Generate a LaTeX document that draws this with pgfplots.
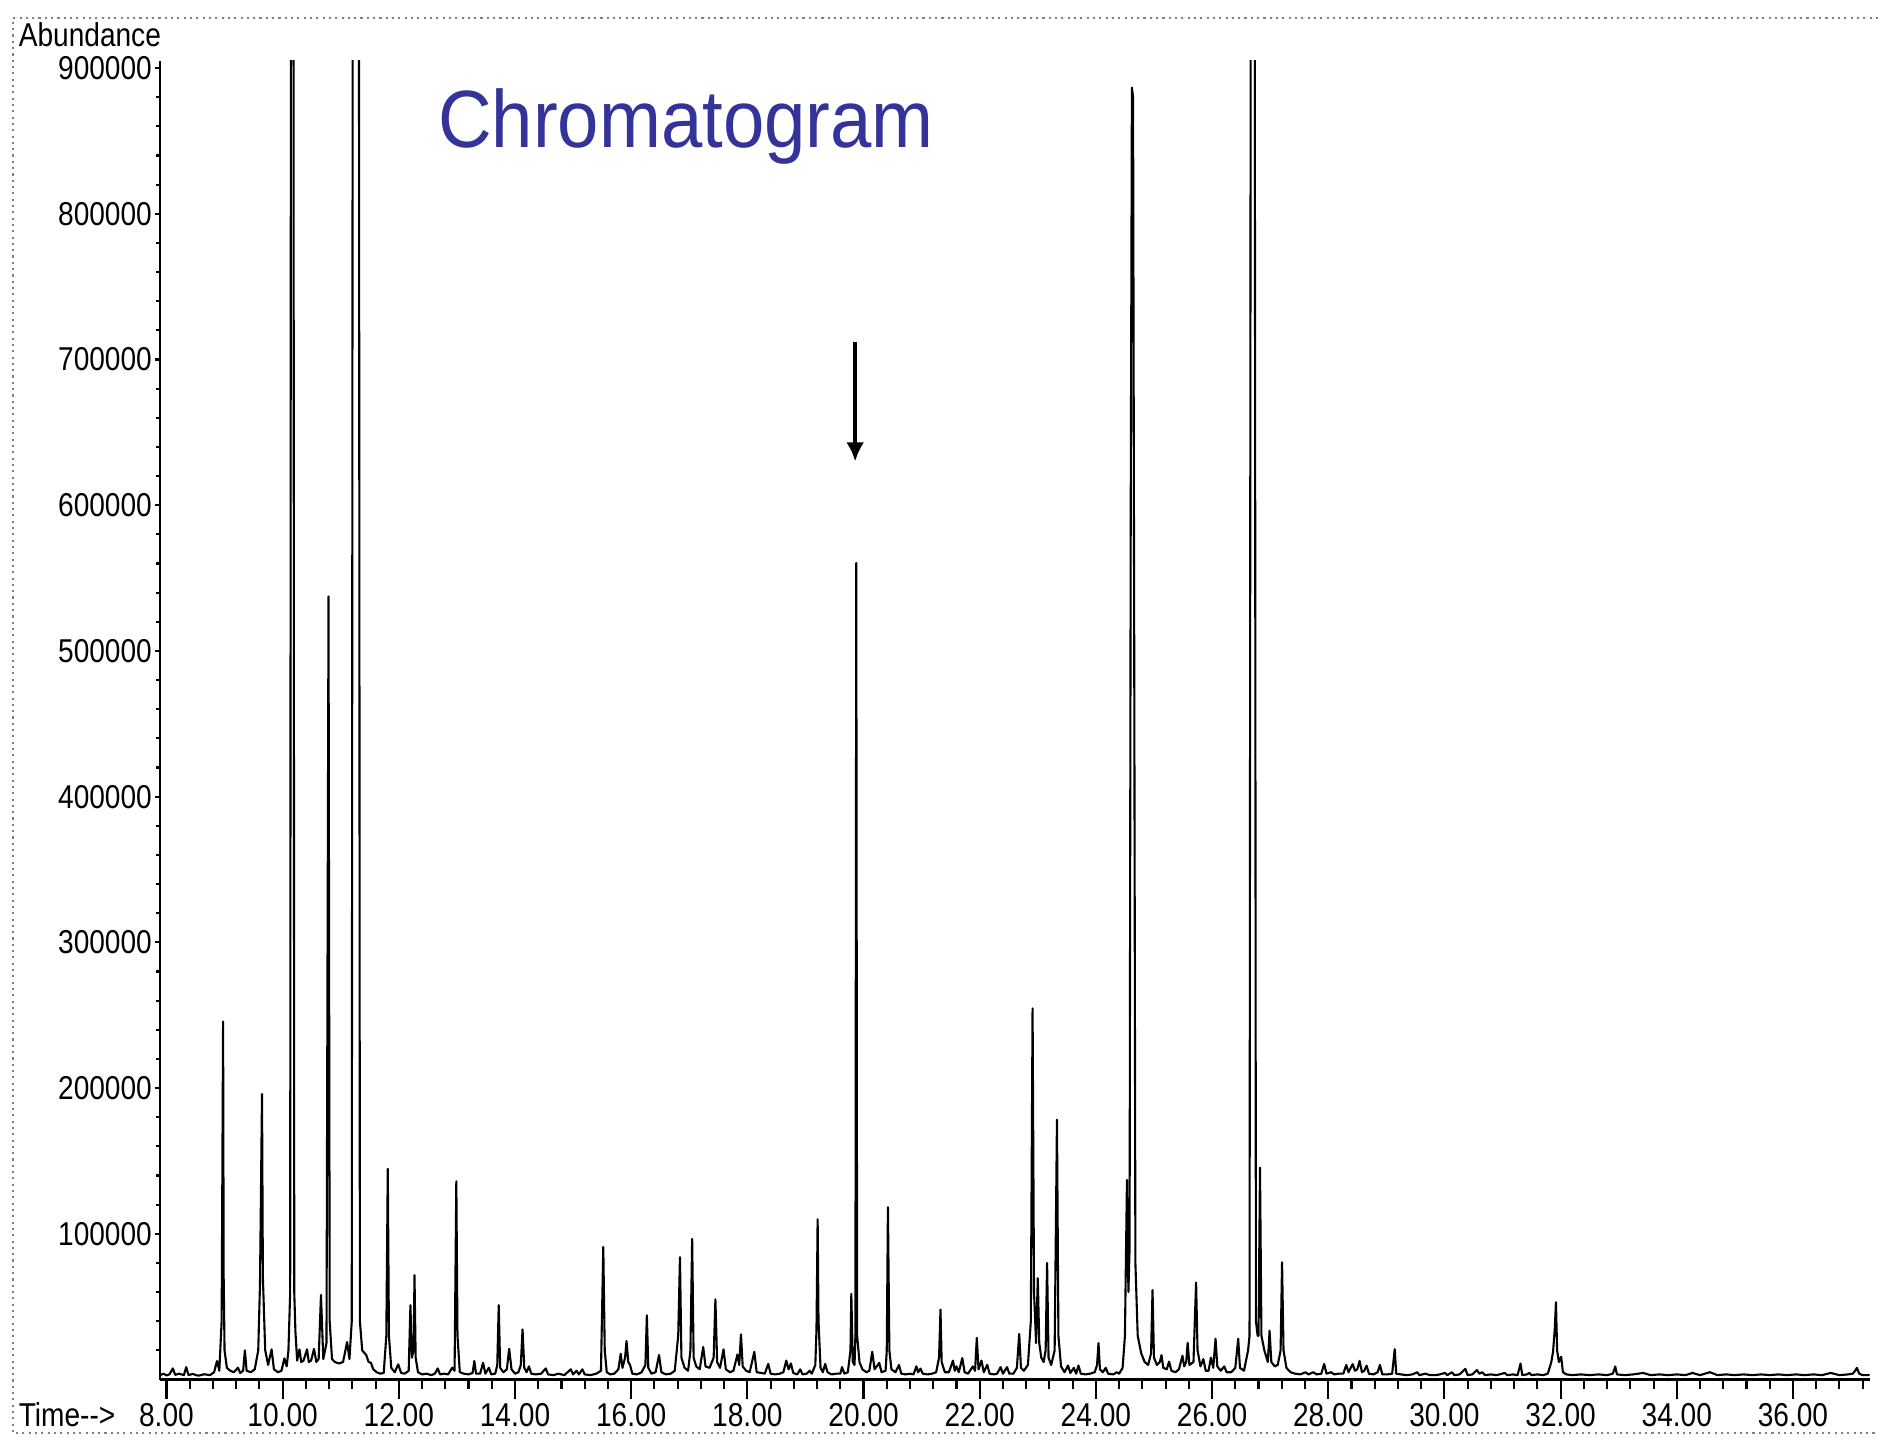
\documentclass[border=0pt]{standalone}
\usepackage{fontspec}
\setmainfont{Liberation Sans}[FakeStretch=0.85]
\newfontfamily\titlefont{Liberation Sans}[FakeStretch=0.915]
\usepackage{pgfplots}
\usepackage{pgfplotstable}
\pgfplotsset{compat=1.18}
\usetikzlibrary{arrows.meta}
\definecolor{titleblue}{RGB}{51,51,153}
\newcommand{\tickfont}{\fontsize{7.85}{9}\selectfont}
\pgfplotstableread{
t a
7.89 3000
7.95 4000
8.00 2800
8.05 3500
8.11 7600
8.15 3200
8.22 4000
8.30 3000
8.34 8500
8.38 3000
8.45 3800
8.55 2600
8.65 3600
8.75 3000
8.82 5000
8.87 12700
8.91 6000
8.95 40000
8.975 245700
8.985 70000
9.00 20000
9.04 8000
9.10 6000
9.16 5000
9.23 8100
9.27 4500
9.32 6000
9.35 20000
9.38 6000
9.45 5000
9.52 7000
9.58 20000
9.61 65000
9.645 196000
9.66 70000
9.70 20000
9.75 10000
9.81 20700
9.85 7000
9.92 5000
9.98 6000
10.03 14500
10.07 9000
10.10 20000
10.13 60000
10.165 2500000
10.20 60000
10.22 33000
10.25 13000
10.29 20700
10.32 12000
10.36 13000
10.42 20700
10.45 12000
10.49 13000
10.54 21000
10.58 12000
10.62 14000
10.66 58000
10.70 14000
10.755 25000
10.79 537400
10.81 40000
10.85 14000
10.90 12000
10.97 11000
11.04 12000
11.11 25700
11.15 14000
11.19 40000
11.26 4000000
11.33 40000
11.37 20000
11.44 16800
11.48 12000
11.52 11500
11.56 7000
11.62 5000
11.68 4000
11.74 4500
11.785 30000
11.81 144600
11.83 30000
11.87 8000
11.93 5000
11.99 10400
12.04 4500
12.10 4000
12.17 6000
12.20 51000
12.225 15000
12.255 20000
12.27 71600
12.29 15000
12.33 5000
12.40 3500
12.48 4000
12.56 3000
12.62 4000
12.67 7600
12.71 3500
12.78 4000
12.85 3500
12.92 8100
12.96 6000
12.99 136000
13.01 30000
13.05 5000
13.12 4000
13.20 3500
13.27 4500
13.30 12700
13.33 4000
13.40 4000
13.45 11500
13.49 4000
13.55 8100
13.59 3500
13.66 4000
13.695 10000
13.72 51000
13.745 8000
13.80 5000
13.86 7000
13.90 21000
13.94 7000
14.00 4000
14.06 5000
14.10 10000
14.13 34400
14.16 8000
14.20 5000
14.24 9000
14.28 4000
14.36 3500
14.45 4000
14.53 7600
14.57 3500
14.66 3000
14.75 4000
14.85 3000
14.96 7000
15.00 3500
15.06 6000
15.10 3500
15.16 7000
15.20 3500
15.30 3000
15.40 4000
15.48 6000
15.52 91000
15.545 20000
15.58 5000
15.64 3500
15.71 4000
15.78 7000
15.82 17700
15.85 8000
15.895 15000
15.92 26400
15.95 12000
15.98 10000
16.02 4000
16.10 3500
16.18 5000
16.245 10000
16.27 44000
16.295 8000
16.35 4000
16.42 5000
16.48 16800
16.52 5000
16.60 3500
16.68 4000
16.75 6000
16.81 30000
16.84 84000
16.865 15000
16.92 8000
16.98 6000
17.02 20000
17.05 96500
17.075 15000
17.12 9000
17.18 7000
17.24 22300
17.28 9000
17.35 8000
17.42 15000
17.45 55000
17.48 12000
17.53 8000
17.59 20700
17.63 7000
17.70 5000
17.76 6000
17.83 17200
17.86 10000
17.89 31000
17.92 9000
17.98 6000
18.04 5000
18.12 19000
18.16 5000
18.24 4500
18.30 4000
18.36 10700
18.40 4000
18.48 3500
18.56 4000
18.62 5000
18.67 13000
18.71 7000
18.75 11000
18.79 4500
18.86 3500
18.91 7000
18.95 3500
19.02 4000
19.07 6000
19.11 4000
19.17 10000
19.19 34000
19.21 110000
19.225 40000
19.26 8000
19.30 5000
19.34 10700
19.38 5000
19.45 3500
19.53 4000
19.60 4000
19.63 8500
19.67 4000
19.73 5000
19.775 20000
19.79 58800
19.815 12000
19.845 10000
19.86 30000
19.875 560400
19.89 30000
19.93 12000
19.98 7000
20.05 5000
20.10 6000
20.15 19000
20.19 7000
20.27 11400
20.31 5000
20.38 6000
20.40 20000
20.42 118300
20.445 20000
20.48 7000
20.55 5000
20.61 10000
20.65 4000
20.72 3500
20.80 4000
20.86 3500
20.91 9000
20.94 5000
20.98 7500
21.02 4000
21.10 3500
21.18 4000
21.25 5000
21.30 15000
21.325 48000
21.345 12000
21.40 5000
21.47 5000
21.54 13000
21.57 6000
21.60 9000
21.64 5000
21.70 14700
21.74 5000
21.80 4000
21.88 9000
21.92 6000
21.95 28600
21.98 7000
22.03 13000
22.07 5000
22.13 10000
22.17 4000
22.25 3500
22.30 4000
22.36 8500
22.40 4000
22.47 8500
22.51 4000
22.58 4000
22.64 8000
22.68 31300
22.71 8000
22.76 6000
22.83 10000
22.88 40000
22.91 254700
22.935 60000
22.97 25000
23.00 69500
23.025 25000
23.06 15000
23.10 12000
23.135 20000
23.16 80000
23.185 15000
23.23 10000
23.29 20000
23.33 178300
23.355 30000
23.40 9000
23.46 5000
23.52 9600
23.56 4500
23.62 8000
23.66 4000
23.70 9600
23.74 4000
23.82 3500
23.90 4000
23.98 5000
24.02 10000
24.045 25000
24.07 7000
24.12 5000
24.17 8000
24.21 4000
24.30 3500
24.36 5000
24.40 4000
24.46 8000
24.50 30000
24.535 137000
24.56 60000
24.58 90000
24.60 600000
24.62 886600
24.64 880000
24.66 500000
24.68 80000
24.72 30000
24.78 18000
24.84 12000
24.90 10000
24.95 18000
24.975 61400
25.00 15000
25.05 10000
25.10 12000
25.13 16700
25.16 8000
25.22 7000
25.26 12300
25.30 6000
25.37 5000
25.43 7000
25.49 16300
25.52 9000
25.555 12000
25.58 25200
25.61 10000
25.68 12000
25.725 66600
25.75 20000
25.80 9000
25.85 14000
25.89 6000
25.94 6000
25.98 15000
26.02 8000
26.06 28000
26.09 9000
26.15 6000
26.21 9000
26.25 5000
26.33 5000
26.40 8000
26.45 28000
26.48 8000
26.55 6000
26.62 20000
26.645 30000
26.70 2500000
26.755 40000
26.785 30000
26.80 30000
26.825 145400
26.85 30000
26.90 20000
26.96 12000
26.99 33500
27.02 12000
27.08 9000
27.13 10000
27.18 20000
27.205 80400
27.23 20000
27.28 8000
27.35 5000
27.43 4000
27.52 3500
27.61 5000
27.66 3500
27.74 5000
27.80 3500
27.88 4000
27.93 10700
27.97 4000
28.05 5000
28.10 3500
28.18 4000
28.26 4000
28.31 10000
28.35 5000
28.42 10600
28.46 6000
28.50 7000
28.54 12800
28.58 5000
28.62 6000
28.66 9500
28.70 4000
28.78 3500
28.85 5000
28.89 10000
28.93 3500
29.02 3500
29.10 4000
29.145 20800
29.17 4000
29.25 3500
29.35 3000
29.45 3500
29.53 5000
29.57 3000
29.67 4000
29.75 3000
29.85 3000
29.92 3500
30.01 4500
30.05 3000
30.13 5000
30.17 3000
30.26 3500
30.36 7300
30.40 3000
30.48 3500
30.56 6500
30.60 4000
30.65 5000
30.70 3000
30.80 3500
30.90 3000
31.04 4500
31.08 3000
31.18 3500
31.26 3000
31.31 11000
31.34 3000
31.42 3500
31.46 4500
31.50 3000
31.60 3500
31.70 3000
31.78 4000
31.84 12000
31.87 19000
31.90 35000
31.92 53000
31.94 20000
31.97 12000
32.01 15600
32.04 5000
32.10 3500
32.20 3000
32.35 3500
32.50 3000
32.65 3500
32.80 3000
32.90 4000
32.94 9000
32.97 3500
33.10 3000
33.25 3500
33.42 4500
33.55 3000
33.70 3500
33.85 3000
34.00 3500
34.15 3000
34.27 4500
34.40 3000
34.57 5000
34.70 3000
34.85 3500
35.00 3000
35.15 3500
35.30 3000
35.45 3500
35.60 3000
35.75 3500
35.90 3000
36.05 3500
36.20 3000
36.35 3500
36.50 3000
36.65 4500
36.80 3000
36.95 3500
37.03 4000
37.07 6000
37.10 8000
37.14 4000
37.20 3000
37.32 3000
}\chrom
\begin{document}
\begin{tikzpicture}
\path[use as bounding box] (-13.35mm,-5.03mm) rectangle (143.45mm,115.18mm);
\fill[white] (-13.35mm,-5.03mm) rectangle (143.45mm,115.18mm);
\draw[gray, densely dotted, line width=0.5pt] (143.45mm,113.7mm) -- (-12.25mm,113.7mm) -- (-12.25mm,-4.5mm) -- (143.45mm,-4.5mm);
\begin{axis}[
  at={(0,0)}, anchor=south west,
  scale only axis, width=142.75mm, height=110.1mm,
  xmin=7.887, xmax=37.32, ymin=0, ymax=905000,
  scaled ticks=false,
  axis lines=left, axis line style={-, black, line width=0.6pt},
  tick align=outside, tick style={black, line width=0.5pt},
  major tick length=1.6mm, minor tick length=0.8mm,
  xtick={8,10,12,14,16,18,20,22,24,26,28,30,32,34,36},
  xticklabels={8.00,10.00,12.00,14.00,16.00,18.00,20.00,22.00,24.00,26.00,28.00,30.00,32.00,34.00,36.00},
  minor xtick={8.4,8.8,9.2,9.6,10.4,10.8,11.2,11.6,12.4,12.8,13.2,13.6,14.4,14.8,15.2,15.6,16.4,16.8,17.2,17.6,18.4,18.8,19.2,19.6,20.4,20.8,21.2,21.6,22.4,22.8,23.2,23.6,24.4,24.8,25.2,25.6,26.4,26.8,27.2,27.6,28.4,28.8,29.2,29.6,30.4,30.8,31.2,31.6,32.4,32.8,33.2,33.6,34.4,34.8,35.2,35.6,36.4,36.8,37.2},
  ytick=\empty,
  xticklabel style={font=\tickfont, anchor=base, inner sep=0pt, yshift=-2.3mm},
]
\addplot[black, line width=0.5pt, line join=round] table[x=t,y=a]{\chrom};
\draw[black, line width=0.9pt, -{Latex[length=1.6mm,width=1.5mm]}] (axis cs:19.856,712000) -- (axis cs:19.856,630000);
\end{axis}
\begin{axis}[
  at={(0,0)}, anchor=south west,
  scale only axis, width=142.75mm, height=110.1mm,
  xmin=7.887, xmax=37.32, ymin=0, ymax=905000,
  scaled ticks=false,
  hide x axis, axis y line=left, y axis line style={draw=none},
  tick align=outside, tick style={black, line width=0.5pt},
  major tick length=0.45mm, minor tick length=0.3mm,
  ytick={100000,200000,300000,400000,500000,600000,700000,800000,900000},
  yticklabels={100000,200000,300000,400000,500000,600000,700000,800000,900000},
  minor ytick={20000,40000,60000,80000,120000,140000,160000,180000,220000,240000,260000,280000,320000,340000,360000,380000,420000,440000,460000,480000,520000,540000,560000,580000,620000,640000,660000,680000,720000,740000,760000,780000,820000,840000,860000,880000},
  yticklabel style={font=\tickfont, inner sep=0pt, xshift=-0.15mm},
]
\addplot[draw=none] coordinates {(8,0)};
\end{axis}
\node[anchor=base west, inner sep=0pt, font=\titlefont\fontsize{19.3}{22}\selectfont, text=titleblue] at (23.15mm,102.9mm) {Chromatogram};
\node[anchor=base west, inner sep=0pt, font=\tickfont] at (-11.85mm,111.3mm) {Abundance};
\node[anchor=base west, inner sep=0pt, font=\tickfont] at (-11.85mm,-3.9mm) {Time-{}-{}>};
\end{tikzpicture}
\end{document}
